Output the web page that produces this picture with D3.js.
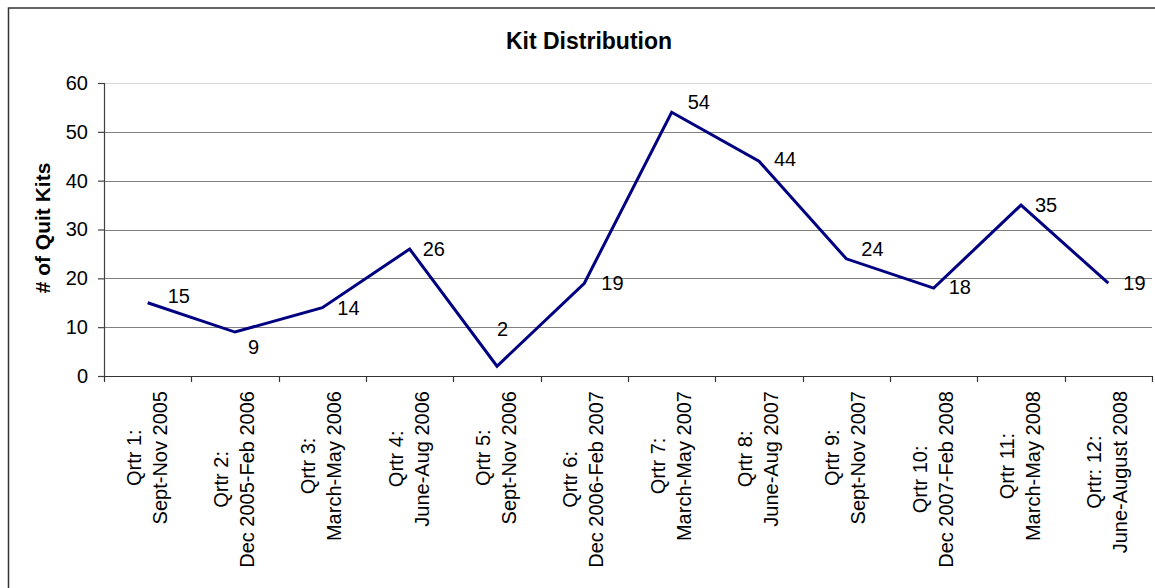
<!DOCTYPE html>
<html>
<head>
<meta charset="utf-8">
<script src="https://cdn.jsdelivr.net/npm/d3@7"></script>
<style>
  html, body { margin: 0; padding: 0; background: #fff; }
  svg { display: block; font-family: "Liberation Sans", Arial, sans-serif; }
</style>
</head>
<body>
<svg id="chart" width="1155" height="588"></svg>
<script>
// Quarterly quit-kit distribution
const quarterNames = ["Qrtr 1:", "Qrtr 2:", "Qrtr 3:", "Qrtr 4:", "Qrtr 5:", "Qrtr 6:",
                      "Qrtr 7:", "Qrtr 8:", "Qrtr 9:", "Qrtr 10:", "Qrtr 11:", "Qrtr: 12:"];
const quarterPeriods = ["Sept-Nov 2005", "Dec 2005-Feb 2006", "March-May 2006", "June-Aug 2006",
                        "Sept-Nov 2006", "Dec 2006-Feb 2007", "March-May 2007", "June-Aug 2007",
                        "Sept-Nov 2007", "Dec 2007-Feb 2008", "March-May 2008", "June-August 2008"];
const kits = [15, 9, 14, 26, 2, 19, 54, 44, 24, 18, 35, 19];
const yTicks = [0, 10, 20, 30, 40, 50, 60];

// per-label nudges (left edge offset from point, vertical centre offset)
const labelNudge = [[20, -7], [13, 15], [15, 0], [13, 0], [0, -37], [17, 0],
                    [16, -11], [15, -2], [15, -10], [15, -1], [14, 0], [15, 0]];

const svg = d3.select("#chart");
const plot = { left: 104, right: 1152, top: 83, bottom: 376 };

// chart frame
svg.append("rect")
  .attr("x", 8.5).attr("y", 8).attr("width", 1200).attr("height", 700)
  .attr("fill", "none").attr("stroke", "#333").attr("stroke-width", 1.5);

const x = d3.scaleBand().domain(d3.range(kits.length)).range([plot.left, plot.right]).padding(0);
const y = d3.scaleLinear().domain([0, 60]).range([plot.bottom, plot.top]);
const cx = i => x(i) + x.bandwidth() / 2;

// title
svg.append("text")
  .attr("x", 589).attr("y", 49)
  .attr("text-anchor", "middle")
  .attr("font-size", 23).attr("font-weight", "bold")
  .text("Kit Distribution");

// gridlines
svg.append("g").selectAll("line")
  .data(yTicks.filter(d => d > 0))
  .join("line")
  .attr("x1", plot.left).attr("x2", plot.right)
  .attr("y1", d => Math.round(y(d)) + 0.5).attr("y2", d => Math.round(y(d)) + 0.5)
  .attr("stroke", d => d === 60 ? "#d9d9d9" : "#808080")
  .attr("stroke-width", 1.2);

// y axis
const yAxis = svg.append("g")
  .attr("transform", `translate(${plot.left},0)`)
  .call(d3.axisLeft(y).tickValues(yTicks).tickSize(6).tickPadding(10));
yAxis.select(".domain").attr("stroke", "#404040").attr("stroke-width", 1.2);
yAxis.selectAll(".tick line").attr("stroke", "#404040").attr("stroke-width", 1.2);
yAxis.selectAll(".tick text")
  .attr("font-size", 20).attr("fill", "#000")
  .attr("font-family", "Liberation Sans, Arial, sans-serif");

// x axis with ticks on category boundaries
const xAxisG = svg.append("g");
xAxisG.append("line")
  .attr("x1", plot.left).attr("x2", plot.right)
  .attr("y1", plot.bottom + 0.5).attr("y2", plot.bottom + 0.5)
  .attr("stroke", "#333").attr("stroke-width", 1.2);
const bounds = d3.range(kits.length + 1).map(i => i < kits.length ? x(i) : plot.right);
xAxisG.selectAll("line.tk")
  .data(bounds)
  .join("line").attr("class", "tk")
  .attr("x1", d => Math.round(d) + 0.5).attr("x2", d => Math.round(d) + 0.5)
  .attr("y1", plot.bottom).attr("y2", plot.bottom + 6)
  .attr("stroke", "#333").attr("stroke-width", 1.2);

// rotated two-line category labels
const catG = svg.append("g").selectAll("g")
  .data(kits.map((_, i) => i))
  .join("g")
  .attr("transform", i => `translate(${cx(i)},391) rotate(-90)`);

catG.each(function (i) {
  const g = d3.select(this);
  const t1 = g.append("text").attr("font-size", 20).attr("y", -7).text(quarterNames[i]);
  const t2 = g.append("text").attr("font-size", 20).attr("y", 19).text(quarterPeriods[i]);
  const w = Math.max(t1.node().getComputedTextLength(), t2.node().getComputedTextLength());
  t1.attr("text-anchor", "middle").attr("x", -w / 2);
  t2.attr("text-anchor", "middle").attr("x", -w / 2);
});

// y axis title
svg.append("text")
  .attr("transform", "translate(50,228) rotate(-90)")
  .attr("text-anchor", "middle")
  .attr("font-size", 21).attr("font-weight", "bold")
  .text("# of Quit Kits");

// series line
const line = d3.line().x((d, i) => cx(i)).y(d => y(d));
svg.append("path")
  .datum(kits)
  .attr("d", line)
  .attr("fill", "none")
  .attr("stroke", "#000080")
  .attr("stroke-width", 3)
  .attr("stroke-linejoin", "miter");

// value labels
svg.append("g").selectAll("text")
  .data(kits)
  .join("text")
  .attr("x", (d, i) => cx(i) + labelNudge[i][0])
  .attr("y", (d, i) => y(d) + labelNudge[i][1])
  .attr("dy", "0.36em")
  .attr("font-size", 20)
  .text(d => d);
</script>
</body>
</html>
